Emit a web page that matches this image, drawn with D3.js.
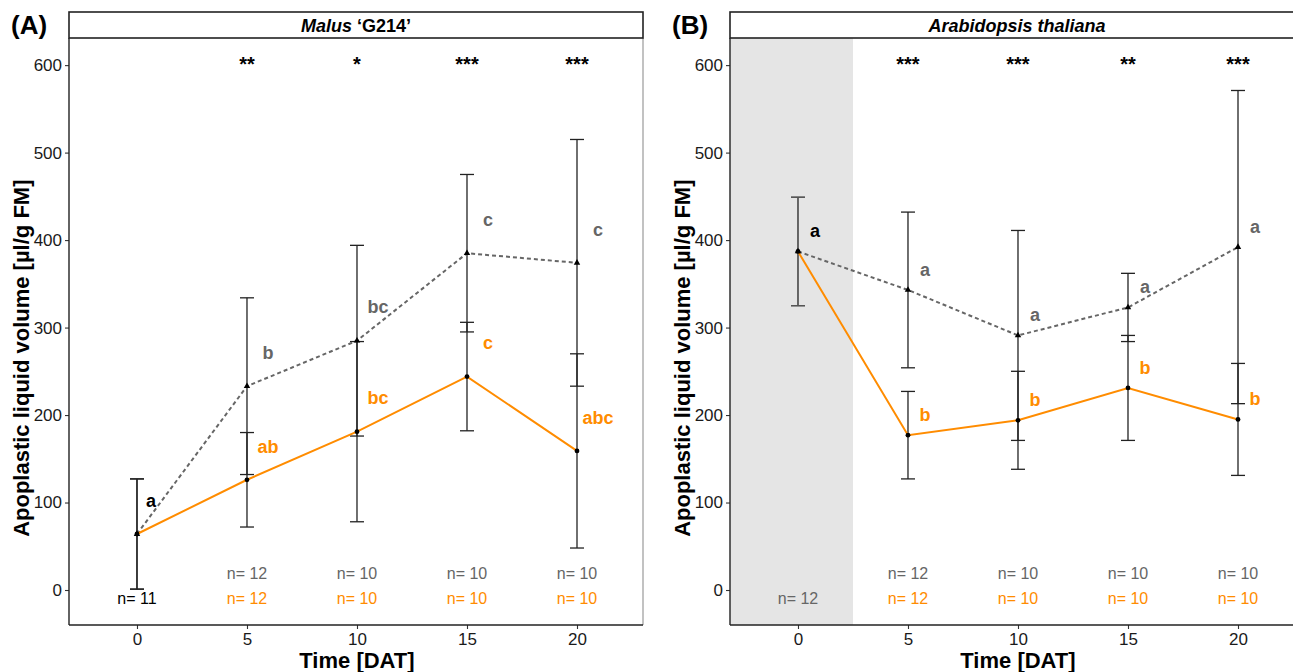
<!DOCTYPE html>
<html lang="en">
<head>
  <meta charset="UTF-8">
  <title>Apoplastic liquid volume</title>
  <script src="https://d3js.org/d3.v7.min.js"></script>
  <style>
    body { margin: 0; background: #fff; }
    svg { font-family: "Liberation Sans", Arial, sans-serif; }
  </style>
</head>
<body>
  <script>
    // time points (days after treatment)
    var days = [0, 5, 10, 15, 20];
    var yTicks = [0, 100, 200, 300, 400, 500, 600];

    // Malus 'G214'
    var malusCtrlMean = [64, 233, 285, 385, 374];
    var malusCtrlSd   = [63, 101, 109, 90, 141];
    var malusTrtMean  = [64, 126, 181, 244, 159];
    var malusTrtSd    = [63, 54, 103, 62, 111];
    var malusCtrlLetters = ["a", "b", "bc", "c", "c"];
    var malusTrtLetters  = ["", "ab", "bc", "c", "abc"];
    var malusStars = ["", "**", "*", "***", "***"];
    var malusCtrlN = [11, 12, 10, 10, 10];
    var malusTrtN  = [11, 12, 10, 10, 10];

    // Arabidopsis thaliana
    var araCtrlMean = [387, 343, 291, 323, 392];
    var araCtrlSd   = [62, 89, 120, 39, 179];
    var araTrtMean  = [387, 177, 194, 231, 195];
    var araTrtSd    = [62, 50, 56, 60, 64];
    var araCtrlLetters = ["a", "a", "a", "a", "a"];
    var araTrtLetters  = ["", "b", "b", "b", "b"];
    var araStars = ["", "***", "***", "**", "***"];
    var araCtrlN = [12, 12, 10, 10, 10];
    var araTrtN  = [12, 12, 10, 10, 10];

    var grey = "#666666";
    var orange = "#FF8C00";

    var svg = d3.select("body")
                .append("svg")
                .attr("width", 1293)
                .attr("height", 672);

    function drawPanel(p) {
      var x = d3.scaleLinear().domain([-3.09, 23]).range([p.left, p.left + 574]);
      var y = d3.scaleLinear().domain([-40, 631]).range([625, 38]);
      var g = svg.append("g");

      // shaded pre-treatment zone
      if (p.shade) {
        g.append("rect")
         .attr("x", x(-3.09)).attr("y", y(631))
         .attr("width", x(2.5) - x(-3.09)).attr("height", y(-40) - y(631))
         .style("fill", "#e5e5e5");
      }

      // panel frame (right side light)
      g.append("line")
       .attr("x1", x(23)).attr("x2", x(23)).attr("y1", y(631)).attr("y2", y(-40))
       .style("stroke", "#999").style("stroke-width", 1.2);

      // strip
      g.append("rect")
       .attr("x", x(-3.09)).attr("y", 12)
       .attr("width", x(23) - x(-3.09)).attr("height", 26)
       .style("fill", "#fff").style("stroke", "#222").style("stroke-width", 1.6);
      var st = g.append("text")
       .attr("x", (x(-3.09) + x(23)) / 2).attr("y", 31.5)
       .attr("text-anchor", "middle")
       .style("font-size", "18px").style("font-weight", "bold");
      p.title.forEach(function (t) {
        st.append("tspan").text(t.text).style("font-style", t.italic ? "italic" : "normal");
      });

      // panel letter
      svg.append("text")
         .attr("x", p.left - 58).attr("y", 34)
         .style("font-size", "26px").style("font-weight", "bold")
         .text(p.tag);

      // axes
      var yAxis = d3.axisLeft(y).tickValues(yTicks).tickSize(4).tickPadding(3);
      var ya = g.append("g").attr("transform", "translate(" + p.left + ",0)").call(yAxis);
      var xAxis = d3.axisBottom(x).tickValues(days).tickSize(4).tickPadding(4);
      var xa = g.append("g").attr("transform", "translate(0,625)").call(xAxis);
      [ya, xa].forEach(function (a) {
        a.select(".domain").remove();
        a.selectAll(".tick line").style("stroke", "#333").style("stroke-width", 1.1);
        a.selectAll(".tick text").style("font-size", "17px").style("fill", "#1a1a1a")
         .style("font-family", "'Liberation Sans', Arial, sans-serif");
      });
      g.append("line").attr("x1", p.left).attr("x2", p.left).attr("y1", y(631)).attr("y2", y(-40))
       .style("stroke", "#222").style("stroke-width", 1.4);
      g.append("line").attr("x1", p.left).attr("x2", x(23)).attr("y1", 625).attr("y2", 625)
       .style("stroke", "#222").style("stroke-width", 1.4);

      // axis titles
      g.append("text")
       .attr("transform", "translate(" + (p.left - 40) + "," + y(265) + ") rotate(-90)")
       .attr("text-anchor", "middle")
       .style("font-size", "22px").style("font-weight", "bold")
       .text("Apoplastic liquid volume [\u00b5l/g FM]");
      g.append("text")
       .attr("x", x(10)).attr("y", 668)
       .attr("text-anchor", "middle")
       .style("font-size", "22px").style("font-weight", "bold")
       .text("Time [DAT]");

      var ctrl = days.map(function (d, i) { return { t: d, m: p.ctrlMean[i], sd: p.ctrlSd[i] }; });
      var trt = days.map(function (d, i) { return { t: d, m: p.trtMean[i], sd: p.trtSd[i] }; });

      // error bars
      ctrl.concat(trt).forEach(function (d) {
        var col = (d.t === 0 && p.shade) ? "#555" : "#222";
        g.append("line").attr("x1", x(d.t)).attr("x2", x(d.t))
         .attr("y1", y(d.m + d.sd)).attr("y2", y(d.m - d.sd))
         .style("stroke", col).style("stroke-width", 1.3);
        [d.m + d.sd, d.m - d.sd].forEach(function (v) {
          g.append("line").attr("x1", x(d.t) - 7).attr("x2", x(d.t) + 7)
           .attr("y1", y(v)).attr("y2", y(v))
           .style("stroke", col).style("stroke-width", 1.3);
        });
      });

      var line = d3.line().x(function (d) { return x(d.t); }).y(function (d) { return y(d.m); });
      g.append("path").datum(ctrl).attr("d", line)
       .style("fill", "none").style("stroke", grey).style("stroke-width", 2)
       .style("stroke-dasharray", "4,3");
      g.append("path").datum(trt).attr("d", line)
       .style("fill", "none").style("stroke", orange).style("stroke-width", 2);

      // points
      g.selectAll(".tri").data(ctrl).enter().append("path")
       .attr("d", d3.symbol().type(d3.symbolTriangle).size(18))
       .attr("transform", function (d) { return "translate(" + x(d.t) + "," + y(d.m) + ")"; })
       .style("fill", "#000");
      g.selectAll(".dot").data(trt).enter().append("circle")
       .attr("cx", function (d) { return x(d.t); }).attr("cy", function (d) { return y(d.m); })
       .attr("r", 2.4).style("fill", "#000");

      // letters
      days.forEach(function (d, i) {
        g.append("text")
         .attr("x", x(d) + (d === 0 ? p.zeroDx : p.letterDx))
         .attr("y", y(p.ctrlMean[i] + p.letterDy) + 6)
         .attr("text-anchor", "middle")
         .style("font-size", "18px").style("font-weight", "bold")
         .style("fill", d === 0 ? "#000" : grey)
         .text(p.ctrlLetters[i]);
        g.append("text")
         .attr("x", x(d) + p.letterDx).attr("y", y(p.trtMean[i] + p.letterDy) + 6)
         .attr("text-anchor", "middle")
         .style("font-size", "18px").style("font-weight", "bold")
         .style("fill", orange)
         .text(p.trtLetters[i]);
        // significance stars
        g.append("text")
         .attr("x", x(d)).attr("y", 71)
         .attr("text-anchor", "middle")
         .style("font-size", "20px").style("font-weight", "bold")
         .text(p.stars[i]);
        // sample sizes
        if (d === 0) {
          g.append("text")
           .attr("x", x(d)).attr("y", 604)
           .attr("text-anchor", "middle")
           .style("font-size", "16px")
           .style("fill", p.shade ? grey : "#000")
           .text("n= " + p.ctrlN[i]);
        } else {
          g.append("text")
           .attr("x", x(d)).attr("y", 579)
           .attr("text-anchor", "middle")
           .style("font-size", "16px").style("fill", grey)
           .text("n= " + p.ctrlN[i]);
          g.append("text")
           .attr("x", x(d)).attr("y", 604)
           .attr("text-anchor", "middle")
           .style("font-size", "16px").style("fill", orange)
           .text("n= " + p.trtN[i]);
        }
      });
    }

    drawPanel({
      left: 69, tag: "(A)", shade: false,
      title: [{ text: "Malus", italic: true }, { text: " \u2018G214\u2019", italic: false }],
      ctrlMean: malusCtrlMean, ctrlSd: malusCtrlSd, trtMean: malusTrtMean, trtSd: malusTrtSd,
      ctrlLetters: malusCtrlLetters, trtLetters: malusTrtLetters, stars: malusStars,
      ctrlN: malusCtrlN, trtN: malusTrtN, letterDx: 21, zeroDx: 14, letterDy: 38
    });
    drawPanel({
      left: 730, tag: "(B)", shade: true,
      title: [{ text: "Arabidopsis thaliana", italic: true }],
      ctrlMean: araCtrlMean, ctrlSd: araCtrlSd, trtMean: araTrtMean, trtSd: araTrtSd,
      ctrlLetters: araCtrlLetters, trtLetters: araTrtLetters, stars: araStars,
      ctrlN: araCtrlN, trtN: araTrtN, letterDx: 17, zeroDx: 17, letterDy: 23
    });
  </script>
</body>
</html>
